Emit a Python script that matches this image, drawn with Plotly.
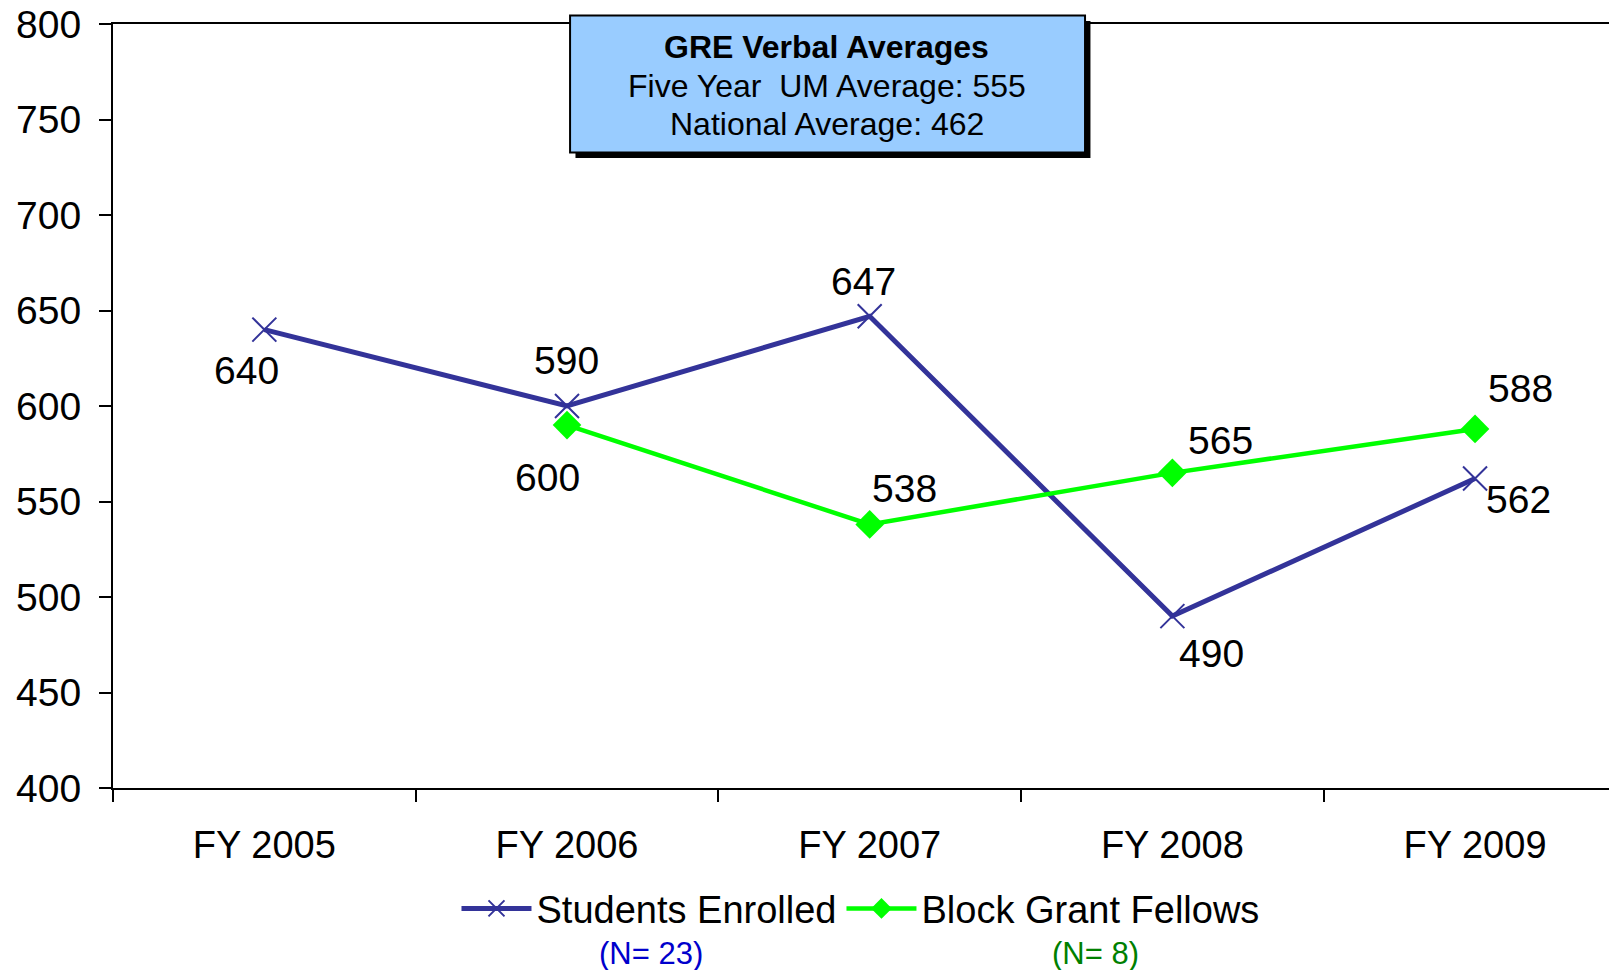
import plotly.graph_objects as go

# values
years = ['FY 2005', 'FY 2006', 'FY 2007', 'FY 2008', 'FY 2009']
students_enrolled = [640, 600, 647, 490, 562]
block_grant_fellows = [None, 590, 538, 565, 588]
box_lines = ['<b>GRE Verbal Averages</b>', 'Five Year  UM Average: 555', 'National Average: 462']
n_labels = ['(N= 23)', '(N= 8)']

# pixel offsets of the data labels (dx right, dy up)
blue_label_shift = [(-18, -41), (-20, -71), (-6, 35), (39, -37), (43, -21)]
green_label_shift = [None, (-1, 65), (35, 36), (48, 32), (45, 40)]

FONT = 'Liberation Sans, Arial, sans-serif'
BLUE = '#333399'
GREEN = '#00FF00'

fig = go.Figure()
fig.add_trace(go.Scatter(
    x=years, y=students_enrolled, name='Students Enrolled', mode='lines+markers',
    line=dict(color=BLUE, width=5),
    marker=dict(symbol='x-thin-open', size=24, line=dict(color=BLUE, width=2), color=BLUE),
))
fig.add_trace(go.Scatter(
    x=years, y=block_grant_fellows, name='Block Grant Fellows', mode='lines+markers',
    line=dict(color=GREEN, width=4.5),
    marker=dict(symbol='diamond', size=22, color=GREEN),
))

# data labels
for yr, v, s in zip(years, students_enrolled, blue_label_shift):
    fig.add_annotation(x=yr, y=v, text=str(v), showarrow=False, xshift=s[0], yshift=s[1],
                       font=dict(size=39, color='black', family=FONT))
for yr, v, s in zip(years, block_grant_fellows, green_label_shift):
    if v is None:
        continue
    fig.add_annotation(x=yr, y=v, text=str(v), showarrow=False, xshift=s[0], yshift=s[1],
                       font=dict(size=39, color='black', family=FONT))

# info box with drop shadow
fig.add_shape(type='rect', xref='paper', yref='paper', x0=0.3075, x1=0.6499, y0=0.8245, y1=1.004,
              fillcolor='black', line=dict(width=0), layer='above')
fig.add_shape(type='rect', xref='paper', yref='paper', x0=0.3039, x1=0.6463, y0=0.8317, y1=1.0111,
              fillcolor='#99CCFF', line=dict(color='black', width=2), layer='above')
for txt, yy in zip(box_lines, [0.9694, 0.9194, 0.8694]):
    fig.add_annotation(xref='paper', yref='paper', x=0.4747, y=yy, text=txt, showarrow=False,
                       xanchor='center', yanchor='middle', font=dict(size=32, color='black', family=FONT))

# N counts under the legend
fig.add_annotation(xref='paper', yref='paper', x=0.3577, y=-0.216, text=n_labels[0], showarrow=False,
                   xanchor='center', yanchor='middle', font=dict(size=31, color='#0000CC', family=FONT))
fig.add_annotation(xref='paper', yref='paper', x=0.653, y=-0.216, text=n_labels[1], showarrow=False,
                   xanchor='center', yanchor='middle', font=dict(size=31, color='#008000', family=FONT))

# page body has an 8px margin, so the figure is a bit smaller and margins are trimmed to match
fig.update_layout(
    width=1609, height=962,
    margin=dict(l=105, r=0, t=16, b=182, autoexpand=False),
    paper_bgcolor='white', plot_bgcolor='white',
    font=dict(family=FONT, size=38, color='black'),
    showlegend=True,
    legend=dict(orientation='h', x=0.497, xanchor='center', y=-0.158, yanchor='middle',
                font=dict(size=38), itemwidth=70, bgcolor='rgba(0,0,0,0)'),
    xaxis=dict(type='category', categoryorder='array', categoryarray=years,
               range=[-0.5, 4.469], tickson='boundaries', ticks='outside', ticklen=12,
               tickwidth=2, tickcolor='black', showline=True, linecolor='black', linewidth=2,
               mirror=True, showgrid=False, zeroline=False, ticklabelstandoff=22,
               tickfont=dict(size=38)),
    yaxis=dict(range=[400, 800], dtick=50, ticks='outside', ticklen=12, tickwidth=2,
               tickcolor='black', showline=True, linecolor='black', linewidth=2,
               showgrid=False, zeroline=False, ticklabelstandoff=10, tickfont=dict(size=39),
               ticklabeloverflow='allow'),
)

fig.write_html('out.html')
